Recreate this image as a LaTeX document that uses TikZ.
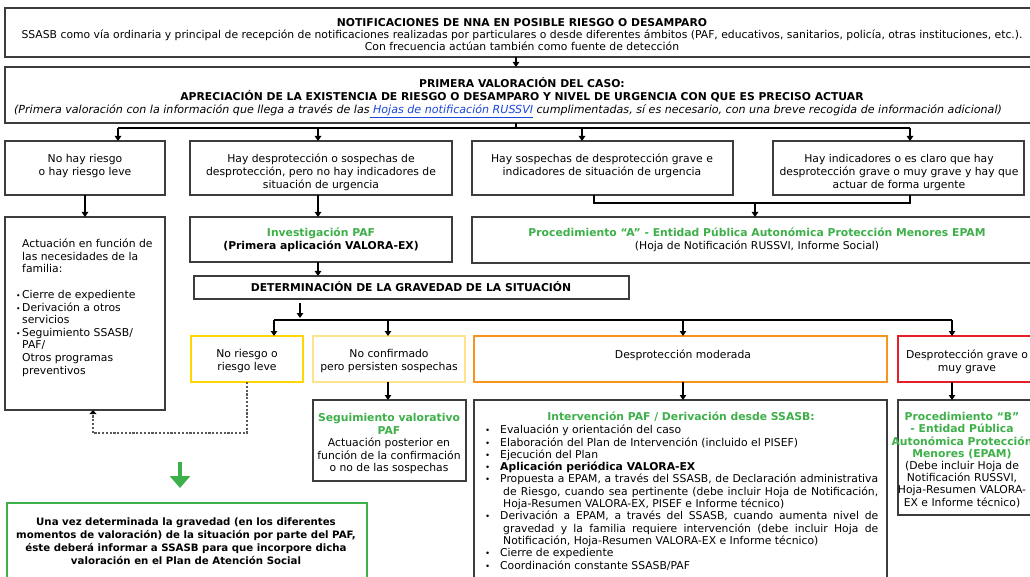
\documentclass[tikz,border=0pt]{standalone}
\usepackage{fontspec}
\setmainfont{DejaVu Sans}
\usetikzlibrary{arrows.meta}
\definecolor{grn}{RGB}{62,176,73}
\definecolor{bd}{RGB}{60,60,60}
\definecolor{yel}{RGB}{255,214,0}
\definecolor{lyel}{RGB}{255,226,140}
\definecolor{ora}{RGB}{247,148,30}
\definecolor{rd}{RGB}{230,30,40}
\definecolor{lnk}{RGB}{25,70,220}
\newcommand\myfz{\fontsize{10.8pt}{12.5pt}\selectfont}
\newcommand\mystrut{\rule{0pt}{10.5pt}}
\newcommand\bul{\makebox[15pt][l]{\scalebox{0.8}{\textbullet}}}
\newcommand\sbul{\makebox[6pt][l]{\scalebox{0.7}{\textbullet}}}
\begin{document}
\begin{tikzpicture}[x=1pt,y=-1pt,
  box/.style={draw=bd, line width=1.2pt, inner sep=0pt, outer sep=0pt, anchor=north west},
  cbox/.style={line width=2.2pt, inner sep=0pt, outer sep=0pt, anchor=north west},
  tc/.style={inner sep=0pt, anchor=north, align=center, font=\myfz},
  tl/.style={inner sep=0pt, anchor=north west, align=left, font=\myfz},
  ln/.style={line width=1.2pt, draw=black},
  arr/.style={line width=1.2pt, draw=black, -{Triangle[length=5pt,width=6.5pt]}},
  dsh/.style={line width=1.2pt, draw=black!65, dash pattern=on 2.2pt off 1.6pt}]
\useasboundingbox (0,0) rectangle (1030,577);
\clip (0,0) rectangle (1030,577);
\fill[white] (0,0) rectangle (1030,577);

% boxes
\node[box, minimum width=1040pt, minimum height=49pt] (top) at (5,8) {};
\node[box, minimum width=1040pt, minimum height=56pt] (sec) at (5,67) {};
\node[box, minimum width=160pt, minimum height=54pt] (b1) at (5,141) {};
\node[box, minimum width=262pt, minimum height=54pt] (b2) at (190,141) {};
\node[box, minimum width=261pt, minimum height=54pt] (b3) at (472,141) {};
\node[box, minimum width=251pt, minimum height=54pt] (b4) at (773,141) {};
\node[box, minimum width=160pt, minimum height=193pt] (b1b) at (5,217) {};
\node[box, minimum width=262pt, minimum height=45pt] (inv) at (190,217) {};
\node[box, minimum width=600pt, minimum height=46pt] (pa) at (472,217) {};
\node[box, minimum width=435pt, minimum height=23pt] (det) at (194,276) {};
\node[cbox, draw=yel, minimum width=112pt, minimum height=46pt] (ye) at (191,336) {};
\node[cbox, draw=lyel, minimum width=152pt, minimum height=46pt] (ly) at (313,336) {};
\node[cbox, draw=ora, minimum width=413pt, minimum height=46pt] (or) at (474,336) {};
\node[cbox, draw=rd, minimum width=200pt, minimum height=46pt] (re) at (898,336) {};
\node[box, minimum width=153pt, minimum height=81pt] (seg) at (313,400) {};
\node[box, minimum width=413pt, minimum height=200pt] (intv) at (474,400) {};
\node[box, minimum width=200pt, minimum height=115pt] (pb) at (898,400) {};
\node[cbox, draw=grn, minimum width=360pt, minimum height=100pt] (gb) at (7,503) {};

% texts
\node[tc, font=\fontsize{10.8pt}{12pt}\selectfont] (ttop) at (522,16) {\mystrut\textbf{NOTIFICACIONES DE NNA EN POSIBLE RIESGO O DESAMPARO}\\
SSASB como vía ordinaria y principal de recepción de notificaciones realizadas por particulares o desde diferentes ámbitos (PAF, educativos, sanitarios, policía, otras instituciones, etc.).\\
Con frecuencia actúan también como fuente de detección};
\node[tc, font=\fontsize{10.8pt}{13pt}\selectfont\bfseries] (tsec) at (522,77) {\mystrut PRIMERA VALORACIÓN DEL CASO:\\
APRECIACIÓN DE LA EXISTENCIA DE RIESGO O DESAMPARO Y NIVEL DE URGENCIA CON QUE ES PRECISO ACTUAR};
\node[tc, font=\fontsize{11.1pt}{13pt}\selectfont\itshape] (tsec2) at (508,103) {\mystrut(Primera valoración con la información que llega a través de las\textcolor{lnk}{\underline{ Hojas de notificación RUSSVI}} cumplimentadas, sí es necesario, con una breve recogida de información adicional)};

\node[tc, font=\fontsize{10.8pt}{13pt}\selectfont] (tb1) at (85,152) {\mystrut No hay riesgo\\o hay riesgo leve};
\node[tc, font=\fontsize{10.8pt}{13pt}\selectfont] (tb2) at (321,152) {\mystrut Hay desprotección o sospechas de\\desprotección, pero no hay indicadores de\\situación de urgencia};
\node[tc, font=\fontsize{10.8pt}{13pt}\selectfont] (tb3) at (602,152) {\mystrut Hay sospechas de desprotección grave e\\indicadores de situación de urgencia};
\node[tc, font=\fontsize{10.8pt}{13pt}\selectfont] (tb4) at (899,152) {\mystrut Hay indicadores o es claro que hay\\desprotección grave o muy grave y hay que\\actuar de forma urgente};

\node[tl, font=\fontsize{10.8pt}{12.6pt}\selectfont] (tb1b) at (22,237) {\mystrut Actuación en función de\\las necesidades de la\\familia:\\[13pt]
\llap{\sbul}Cierre de expediente\\
\llap{\sbul}Derivación a otros\\servicios\\
\llap{\sbul}Seguimiento SSASB/\\PAF/\\Otros programas\\preventivos};
\node[tc, font=\fontsize{10.8pt}{13pt}\selectfont\bfseries] (tinv) at (321,226) {\mystrut\textcolor{grn}{Investigación PAF}\\(Primera aplicación VALORA-EX)};
\node[tc, font=\fontsize{10.8pt}{13pt}\selectfont] (tpa) at (757,226) {\mystrut\textcolor{grn}{\bfseries Procedimiento “A” - Entidad Pública Autonómica Protección Menores EPAM}\\(Hoja de Notificación RUSSVI, Informe Social)};
\node[tc, font=\myfz\bfseries] (tdet) at (411,281) {\mystrut DETERMINACIÓN DE LA GRAVEDAD DE LA SITUACIÓN};

\node[tc, font=\fontsize{10.8pt}{13pt}\selectfont] (tye) at (247,347) {\mystrut No riesgo o\\riesgo leve};
\node[tc, font=\fontsize{10.8pt}{13pt}\selectfont] (tly) at (389,347) {\mystrut No confirmado\\pero persisten sospechas};
\node[tc] (tor) at (683,348) {\mystrut Desprotección moderada};
\node[tc, font=\fontsize{10.8pt}{13pt}\selectfont] (tre) at (967,348) {\mystrut Desprotección grave o\\muy grave};

\node[tc] (tseg) at (389,411) {\mystrut\textcolor{grn}{\bfseries Seguimiento valorativo}\\\textcolor{grn}{\bfseries PAF}\\Actuación posterior en\\función de la confirmación\\o no de las sospechas};
\node[tc, font=\myfz\bfseries] (tint) at (681,410) {\mystrut\textcolor{grn}{Intervención PAF / Derivación desde SSASB:}};
\node[tl, font=\fontsize{10.8pt}{12.3pt}\selectfont] (tintl) at (500,423) {\mystrut\llap{\bul}Evaluación y orientación del caso\\
\llap{\bul}Elaboración del Plan de Intervención (incluido el PISEF)\\
\llap{\bul}Ejecución del Plan\\
\llap{\bul}\textbf{Aplicación periódica VALORA-EX}\\
\llap{\bul}\makebox[378pt][s]{Propuesta a EPAM, a través del SSASB, de Declaración administrativa}\\
\hspace*{3pt}\makebox[375pt][s]{de Riesgo, cuando sea pertinente (debe incluir Hoja de Notificación,}\\
\hspace*{3pt}Hoja-Resumen VALORA-EX, PISEF e Informe técnico)\\
\llap{\bul}\makebox[378pt][s]{Derivación a EPAM, a través del SSASB, cuando aumenta nivel de}\\
\hspace*{3pt}\makebox[375pt][s]{gravedad y la familia requiere intervención (debe incluir Hoja de}\\
\hspace*{3pt}Notificación, Hoja-Resumen VALORA-EX e Informe técnico)\\
\llap{\bul}Cierre de expediente\\
\llap{\bul}Coordinación constante SSASB/PAF};
\node[tc, font=\fontsize{10.8pt}{12.2pt}\selectfont] (tpb) at (962,410) {\mystrut\textcolor{grn}{\bfseries Procedimiento “B”}\\\textcolor{grn}{\bfseries - Entidad Pública}\\\textcolor{grn}{\bfseries Autonómica Protección}\\\textcolor{grn}{\bfseries Menores (EPAM)}\\(Debe incluir Hoja de\\Notificación RUSSVI,\\Hoja-Resumen VALORA-\\EX e Informe técnico)};
\node[tc, font=\fontsize{10.2pt}{13pt}\selectfont\bfseries] (tgb) at (186,515) {\mystrut Una vez determinada la gravedad (en los diferentes\\momentos de valoración) de la situación por parte del PAF,\\éste deberá informar a SSASB para que incorpore dicha\\valoración en el Plan de Atención Social};

% connectors
\coordinate (a0) at (516,0);
\draw[arr] (top.south -| a0) -- (sec.north -| a0);
\coordinate (r1) at (118,128);
\coordinate (r2) at (318,128);
\coordinate (r3) at (582,128);
\coordinate (r4) at (910,128);
\draw[ln] (sec.south -| a0) -- (a0 |- r1);
\draw[ln] (r1) -- (r4);
\draw[arr] (r1) -- (r1 |- b1.north);
\draw[arr] (r2) -- (r2 |- b2.north);
\draw[arr] (r3) -- (r3 |- b3.north);
\draw[arr] (r4) -- (r4 |- b4.north);
\draw[arr] (b1.south) -- (b1b.north);
\coordinate (c2) at (318,0);
\draw[arr] (b2.south -| c2) -- (inv.north -| c2);
\coordinate (j3) at (594,203);
\coordinate (j4) at (910,203);
\coordinate (jm) at (755,203);
\draw[ln] (b3.south -| j3) -- (j3) -- (j4) -- (b4.south -| j4);
\draw[arr] (jm) -- (jm |- pa.north);
\draw[arr] (inv.south -| c2) -- (det.north -| c2);
\coordinate (d0) at (300,0);
\coordinate (s1) at (274,320);
\coordinate (s2) at (388,320);
\coordinate (s3) at (683,320);
\coordinate (s4) at (952,320);
\draw[arr, shorten <=4pt, shorten >=2pt] (det.south -| d0) -- (d0 |- s1);
\draw[ln] (s1) -- (s4);
\draw[arr] (s1) -- (s1 |- ye.north);
\draw[arr] (s2) -- (s2 |- ly.north);
\draw[arr] (s3) -- (s3 |- or.north);
\draw[arr] (s4) -- (s4 |- re.north);
\draw[arr] (ly.south -| s2) -- (seg.north -| s2);
\draw[arr] (or.south -| s3) -- (intv.north -| s3);
\draw[arr] (re.south -| s4) -- (pb.north -| s4);
\coordinate (k1) at (247,433);
\coordinate (k2) at (93,433);
\draw[dsh] (ye.south -| k1) -- (k1) -- (k2) -- (k2 |- b1b.south);
\fill[black] (k2 |- b1b.south) ++(-3.5,4) -- ++(3.5,-4) -- ++(3.5,4) -- cycle;
\coordinate (g1) at (180,462);
\coordinate (g2) at (180,488);
\draw[grn, line width=3.5pt, -{Triangle[length=12pt,width=20pt]}] (g1) -- (g2);
\end{tikzpicture}
\end{document}
